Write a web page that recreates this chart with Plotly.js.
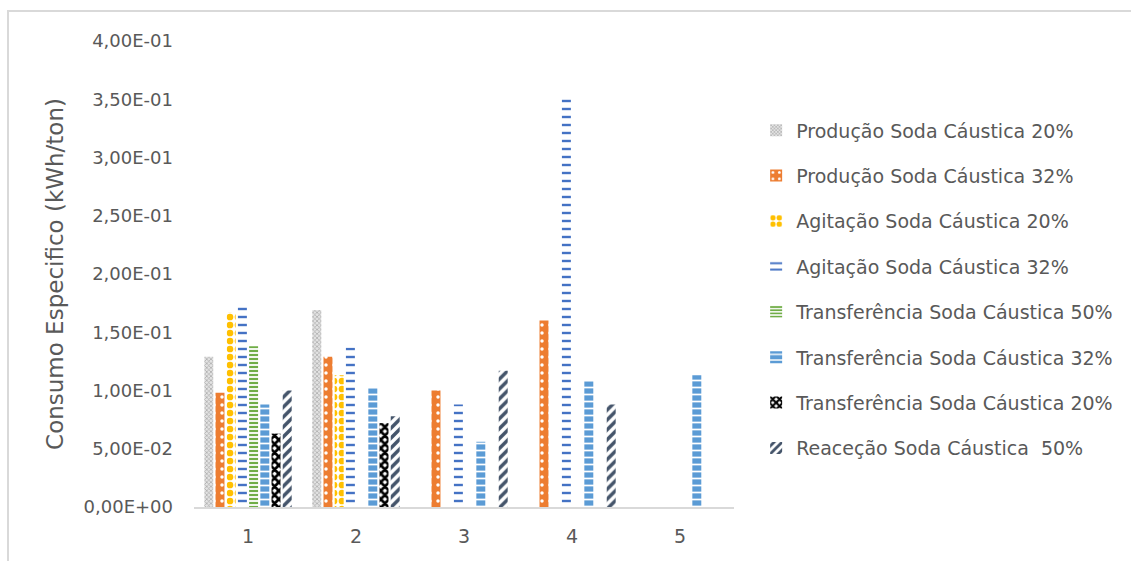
<!DOCTYPE html>
<html>
<head>
<meta charset="utf-8">
<script src="https://cdn.plot.ly/plotly-3.0.1.min.js"></script>
<style>
  html, body { margin: 0; padding: 0; background: #fff; }
  #wrap { position: relative; width: 1131px; height: 561px; }
  #chart { width: 1131px; height: 561px; }
  #frame { position: absolute; left: 7px; top: 10px; right: 0; bottom: 0;
           border-left: 2px solid #d9d9d9; border-top: 2px solid #d9d9d9; pointer-events: none; }
</style>
</head>
<body>
<div id="wrap"><div id="chart"></div><div id="frame"></div></div>
<script>
const categories = ["1", "2", "3", "4", "5"];

const seriesNames = [
  "Produção Soda Cáustica 20%",
  "Produção Soda Cáustica 32%",
  "Agitação Soda Cáustica 20%",
  "Agitação Soda Cáustica 32%",
  "Transferência Soda Cáustica 50%",
  "Transferência Soda Cáustica 32%",
  "Transferência Soda Cáustica 20%",
  "Reaceção Soda Cáustica  50%"
];

const producao20      = [0.129, 0.169, null, null, null];
const producao32      = [0.098, 0.129, 0.100, 0.160, null];
const agitacao20      = [0.167, 0.113, null, null, null];
const agitacao32      = [0.174, 0.137, 0.088, 0.351, null];
const transferencia50 = [0.138, null, null, null, null];
const transferencia32 = [0.088, 0.102, 0.056, 0.108, 0.113];
const transferencia20 = [0.063, 0.072, null, null, null];
const reacao50        = [0.100, 0.078, 0.117, 0.088, null];

const seriesValues = [producao20, producao32, agitacao20, agitacao32,
                      transferencia50, transferencia32, transferencia20, reacao50];

const yTickVals = [0, 0.05, 0.10, 0.15, 0.20, 0.25, 0.30, 0.35, 0.40];
const yTickText = ["0,00E+00", "5,00E-02", "1,00E-01", "1,50E-01", "2,00E-01",
                   "2,50E-01", "3,00E-01", "3,50E-01", "4,00E-01"];

const patterns = [
  {shape: "x", fgcolor: "#a6a6a6", bgcolor: "#e3e3e3", size: 3, solidity: 0.4},
  {shape: ".", fgcolor: "#ffffff", bgcolor: "#ed7d31", size: 8, solidity: 0.15},
  {shape: ".", fgcolor: "#ffc000", bgcolor: "#ffffff", size: 8, solidity: 0.55},
  {shape: "-", fgcolor: "#4472c4", bgcolor: "#ffffff", size: 8, solidity: 0.3},
  {shape: "-", fgcolor: "#70ad47", bgcolor: "#ffffff", size: 4, solidity: 0.55},
  {shape: "-", fgcolor: "#ffffff", bgcolor: "#5b9bd5", size: 7, solidity: 0.25},
  {shape: "x", fgcolor: "#000000", bgcolor: "#ffffff", size: 6, solidity: 0.7},
  {shape: "/", fgcolor: "#44546a", bgcolor: "#ffffff", size: 7, solidity: 0.5}
];

const traces = seriesNames.map((name, i) => ({
  type: "bar",
  name: name,
  x: categories,
  y: seriesValues[i],
  legendgroup: "g" + i,
  marker: {
    color: patterns[i].bgcolor,
    line: {width: 0},
    pattern: Object.assign({fillmode: "replace"}, patterns[i])
  },
  hoverinfo: "skip"
}));

const font = "'DejaVu Sans', 'Open Sans', sans-serif";

const layout = {
  width: 1131,
  height: 561,
  margin: {l: 194, r: 397, t: 41, b: 54},
  paper_bgcolor: "#ffffff",
  plot_bgcolor: "#ffffff",
  font: {family: font, color: "#595959", size: 18},
  barmode: "group",
  bargap: 0.17,
  bargroupgap: 0.2,
  showlegend: true,
  legend: {
    x: 1.041, xanchor: "left",
    y: 0.849, yanchor: "top",
    font: {family: font, size: 19, color: "#595959"},
    tracegroupgap: 17.7,
    itemwidth: 30,
    bgcolor: "rgba(0,0,0,0)"
  },
  xaxis: {
    type: "category",
    showgrid: false,
    zeroline: false,
    showline: true,
    linecolor: "#d9d9d9",
    linewidth: 1.5,
    ticks: "",
    tickfont: {family: font, size: 19, color: "#595959"},
    ticklabelstandoff: 12
  },
  yaxis: {
    range: [0, 0.4],
    tickmode: "array",
    tickvals: yTickVals,
    ticktext: yTickText,
    showgrid: false,
    zeroline: false,
    showline: false,
    ticks: "",
    tickfont: {family: font, size: 18, color: "#595959"},
    ticklabelstandoff: 20,
    title: {text: "Consumo Especifico (kWh/ton)", font: {family: font, size: 23, color: "#595959"}, standoff: 13}
  }
};

Plotly.newPlot("chart", traces, layout, {displayModeBar: false, staticPlot: true});
</script>
</body>
</html>
